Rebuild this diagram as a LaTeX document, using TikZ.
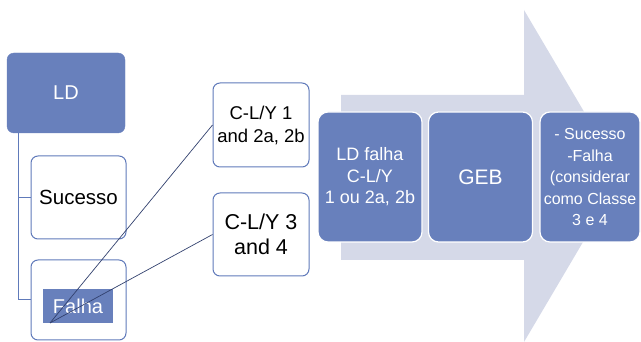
\documentclass[tikz,border=0pt]{standalone}
\usepackage{fontspec}
\setmainfont{Liberation Sans}
\definecolor{bluefill}{RGB}{104,128,188}
\definecolor{blueline}{RGB}{96,122,186}
\definecolor{arrowfill}{RGB}{213,217,232}
\definecolor{linkcol}{RGB}{50,65,110}
\begin{document}
\begin{tikzpicture}[x=1pt,y=-1pt,
  darkbox/.style={fill=bluefill,draw=bluefill,rounded corners=7pt,inner sep=0pt,text=white,align=center},
  whitebox/.style={fill=white,draw=blueline,line width=1pt,rounded corners=7pt,inner sep=0pt,align=center},
  stagebox/.style={fill=bluefill,draw=white,line width=1.2pt,rounded corners=10pt,inner sep=0pt,text=white,align=center,minimum width=104pt,minimum height=130pt},
  link/.style={draw=linkcol,line width=0.7pt},
  treeline/.style={draw=blueline,line width=1pt}]
\useasboundingbox (0,0) rectangle (641,342);
% big arrow
\fill[arrowfill] (341,95) -- (524,95) -- (524,10) -- (622,176) -- (524,342) -- (524,260) -- (341,260) -- cycle;
% left tree
\node[darkbox,minimum width=118pt,minimum height=80pt,font=\fontsize{20}{24}\selectfont] (ld) at (66,93) {LD};
\node[whitebox,minimum width=95pt,minimum height=83pt,font=\fontsize{20.5}{24}\selectfont] (suc) at (78.5,197.5) {Sucesso};
\node[whitebox,minimum width=95pt,minimum height=80pt] (fbox) at (78.5,300) {};
\node[fill=bluefill,inner sep=0pt,minimum width=70pt,minimum height=34pt,text=white,font=\fontsize{20}{24}\selectfont] (flab) at (78,306) {Falha};
\coordinate (tv) at (18,133);
\draw[treeline] (tv) |- (fbox.west);
\draw[treeline] (18,197.5) -- (suc.west);
% middle boxes
\node[whitebox,minimum width=96pt,minimum height=84pt,font=\fontsize{18.5}{23}\selectfont] (c1) at (261,125) {C-L/Y 1\\and 2a, 2b};
\node[whitebox,minimum width=96pt,minimum height=83pt,font=\fontsize{21.5}{25}\selectfont] (c3) at (261,234.5) {C-L/Y 3\\and 4};
\coordinate (fs) at (50,323);
\draw[link] (fs) -- (c1.west);
\draw[link] (fs) -- (c3.west);
% stage boxes
\node[stagebox,font=\fontsize{18}{21.5}\selectfont] (s1) at (370,177) {LD falha\\C-L/Y\\1 ou 2a, 2b};
\node[stagebox,font=\fontsize{21}{25}\selectfont] (s2) at (480.5,177) {GEB};
\node[stagebox,minimum width=100pt,font=\fontsize{16}{21.5}\selectfont] (s3) at (590,177) {- Sucesso\\-Falha\\(considerar\\como Classe\\3 e 4};
\end{tikzpicture}
\end{document}
